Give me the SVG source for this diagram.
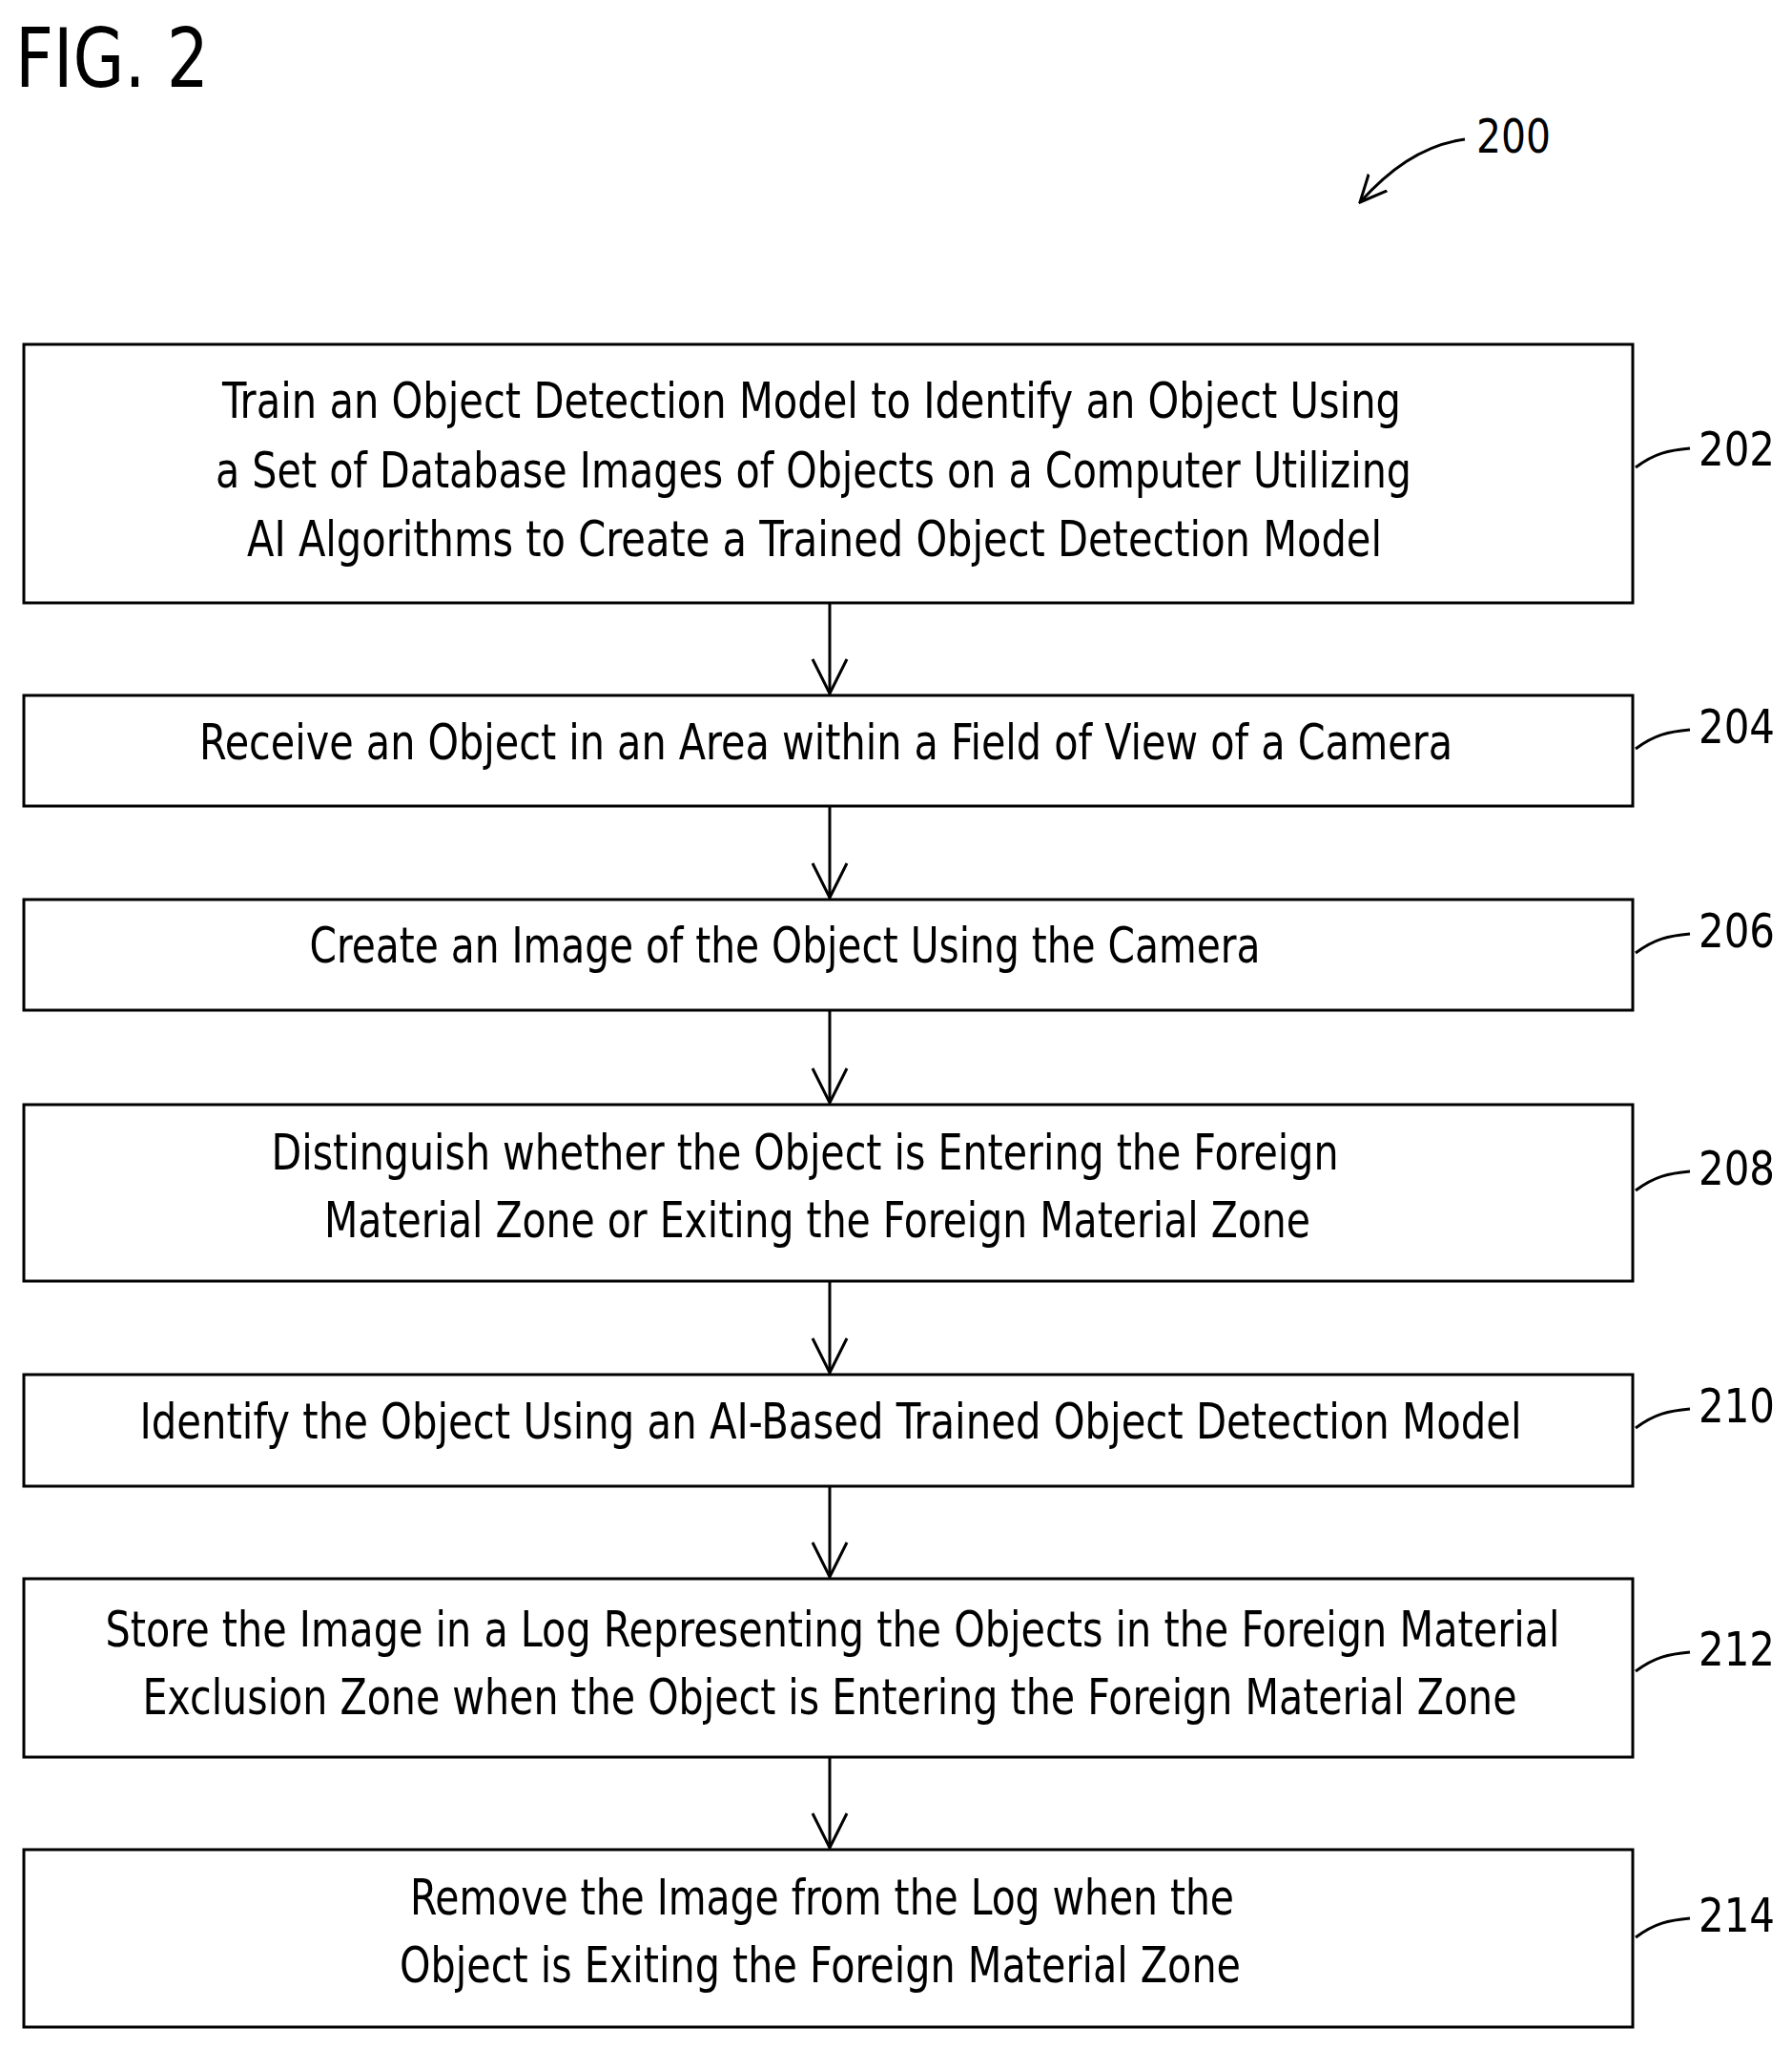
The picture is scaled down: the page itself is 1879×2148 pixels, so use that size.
<svg xmlns="http://www.w3.org/2000/svg" width="1879" height="2148" viewBox="0 0 1879 2148">
<style>
.b{fill:#fff;stroke:#000;stroke-width:3}
.t{font-family:"Liberation Sans Narrow","DejaVu Sans Condensed","Liberation Sans",sans-serif;font-size:52px;text-anchor:middle;fill:#000}
.n{font-family:"Liberation Sans Narrow","DejaVu Sans Condensed","Liberation Sans",sans-serif;font-size:50px;fill:#000}
.l{fill:none;stroke:#000;stroke-width:3}
</style>
<defs><marker id="a" viewBox="0 0 40 40" refX="38" refY="20" markerWidth="40" markerHeight="40" markerUnits="userSpaceOnUse" orient="auto"><path d="M2,2 L38,20 L2,38" fill="none" stroke="#000" stroke-width="3"/></marker>
<marker id="a2" viewBox="0 0 30 30" refX="28" refY="15" markerWidth="30" markerHeight="30" markerUnits="userSpaceOnUse" orient="auto"><path d="M0,2 L28,15 L0,28" fill="none" stroke="#000" stroke-width="3"/></marker></defs>
<text x="16" y="91" font-family="Liberation Sans Narrow,DejaVu Sans Condensed,sans-serif" font-size="86" textLength="203" lengthAdjust="spacingAndGlyphs">FIG. 2</text>
<g id="ref200"><text class="n" x="1548" y="160" textLength="78" lengthAdjust="spacingAndGlyphs">200</text><path class="l" d="M1536,146 C1490,152 1455,180 1426,212" marker-end="url(#a2)"/></g>
<g id="connectors">
<line class="l" x1="870" y1="632" x2="870" y2="727" marker-end="url(#a)"/>
<line class="l" x1="870" y1="845" x2="870" y2="941" marker-end="url(#a)"/>
<line class="l" x1="870" y1="1059" x2="870" y2="1156" marker-end="url(#a)"/>
<line class="l" x1="870" y1="1343" x2="870" y2="1439" marker-end="url(#a)"/>
<line class="l" x1="870" y1="1558" x2="870" y2="1653" marker-end="url(#a)"/>
<line class="l" x1="870" y1="1842" x2="870" y2="1937" marker-end="url(#a)"/>
</g>
<g id="n202"><rect class="b" x="25" y="361" width="1687" height="271"/>
<text class="t" x="851" y="438" textLength="1236" lengthAdjust="spacingAndGlyphs">Train an Object Detection Model to Identify an Object Using</text>
<text class="t" x="853" y="511" textLength="1254" lengthAdjust="spacingAndGlyphs">a Set of Database Images of Objects on a Computer Utilizing</text>
<text class="t" x="854" y="583" textLength="1190" lengthAdjust="spacingAndGlyphs">AI Algorithms to Create a Trained Object Detection Model</text>
<path class="l" d="M1715,490 C1735,475 1750,472 1772,470"/><text class="n" x="1781" y="488" textLength="80" lengthAdjust="spacingAndGlyphs">202</text></g>
<g id="n204"><rect class="b" x="25" y="729" width="1687" height="116"/>
<text class="t" x="866" y="796" textLength="1314" lengthAdjust="spacingAndGlyphs">Receive an Object in an Area within a Field of View of a Camera</text>
<path class="l" d="M1715,785 C1735,770 1750,767 1772,765"/><text class="n" x="1781" y="779" textLength="80" lengthAdjust="spacingAndGlyphs">204</text></g>
<g id="n206"><rect class="b" x="25" y="943" width="1687" height="116"/>
<text class="t" x="823" y="1009" textLength="997" lengthAdjust="spacingAndGlyphs">Create an Image of the Object Using the Camera</text>
<path class="l" d="M1715,999 C1735,984 1750,981 1772,979"/><text class="n" x="1781" y="993" textLength="80" lengthAdjust="spacingAndGlyphs">206</text></g>
<g id="n208"><rect class="b" x="25" y="1158" width="1687" height="185"/>
<text class="t" x="844" y="1226" textLength="1119" lengthAdjust="spacingAndGlyphs">Distinguish whether the Object is Entering the Foreign</text>
<text class="t" x="857" y="1297" textLength="1034" lengthAdjust="spacingAndGlyphs">Material Zone or Exiting the Foreign Material Zone</text>
<path class="l" d="M1715,1248 C1735,1233 1750,1230 1772,1228"/><text class="n" x="1781" y="1242" textLength="80" lengthAdjust="spacingAndGlyphs">208</text></g>
<g id="n210"><rect class="b" x="25" y="1441" width="1687" height="117"/>
<text class="t" x="871" y="1508" textLength="1449" lengthAdjust="spacingAndGlyphs">Identify the Object Using an AI-Based Trained Object Detection Model</text>
<path class="l" d="M1715,1497 C1735,1482 1750,1479 1772,1477"/><text class="n" x="1781" y="1491" textLength="80" lengthAdjust="spacingAndGlyphs">210</text></g>
<g id="n212"><rect class="b" x="25" y="1655" width="1687" height="187"/>
<text class="t" x="873" y="1726" textLength="1525" lengthAdjust="spacingAndGlyphs">Store the Image in a Log Representing the Objects in the Foreign Material</text>
<text class="t" x="870" y="1797" textLength="1441" lengthAdjust="spacingAndGlyphs">Exclusion Zone when the Object is Entering the Foreign Material Zone</text>
<path class="l" d="M1715,1752 C1735,1737 1750,1734 1772,1732"/><text class="n" x="1781" y="1746" textLength="80" lengthAdjust="spacingAndGlyphs">212</text></g>
<g id="n214"><rect class="b" x="25" y="1939" width="1687" height="186"/>
<text class="t" x="862" y="2007" textLength="864" lengthAdjust="spacingAndGlyphs">Remove the Image from the Log when the</text>
<text class="t" x="860" y="2078" textLength="882" lengthAdjust="spacingAndGlyphs">Object is Exiting the Foreign Material Zone</text>
<path class="l" d="M1715,2031 C1735,2016 1750,2013 1772,2011"/><text class="n" x="1781" y="2025" textLength="80" lengthAdjust="spacingAndGlyphs">214</text></g>
</svg>
